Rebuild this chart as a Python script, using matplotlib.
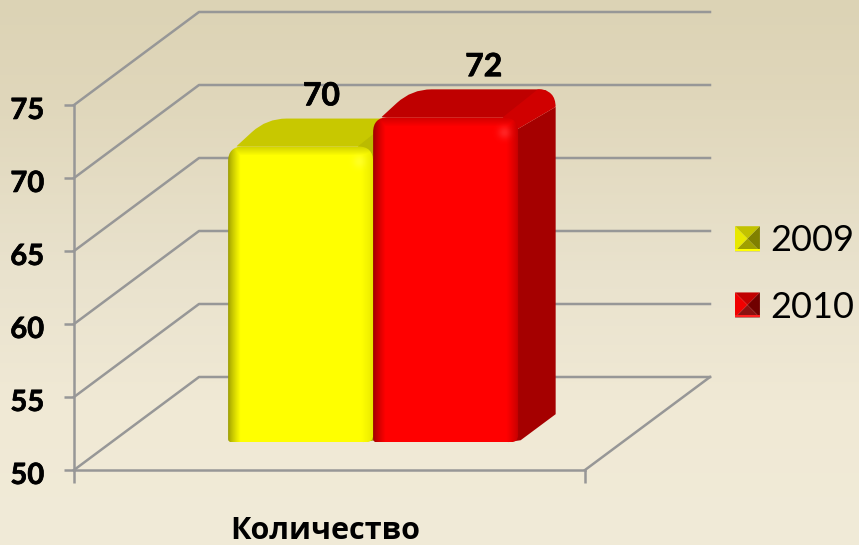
import numpy as np
import matplotlib
matplotlib.use("Agg")
import matplotlib.pyplot as plt
import matplotlib.patheffects as pe
from matplotlib.legend_handler import HandlerBase
from matplotlib.patches import PathPatch, Polygon, Patch
from matplotlib.path import Path
from matplotlib.transforms import ScaledTranslation

# ---- data -------------------------------------------------------------
categories = ["Количество"]
series_names = ["2009", "2010"]
values_2009 = [70]
values_2010 = [72]
y_ticks = [50, 55, 60, 65, 70, 75]

# ---- style ------------------------------------------------------------
W, H = 859, 545
AX_L, AX_R, AX_B, AX_T = 74, 585, 470, 105   # px
DX, DY_PX = 125 / 511, 93                    # wall depth
GRID = "#979797"
LW = 1.8
D0, D1 = 0.30, 0.60                          # bar depth range
BAR_W = 0.2838
NUDGE = 0.012
OVER = 0.25                                  # bevel overshoot (value units)
HEAVY = [pe.withStroke(linewidth=0.5, foreground="black")]

fig = plt.figure(figsize=(W / 100, H / 100), dpi=100)

# background gradient
bg = fig.add_axes([0, 0, 1, 1], zorder=-1)
rows = np.arange(H)
stops = [0, 100, 270, 400, 545]
grad = np.stack([
    np.interp(rows, stops, [220, 224, 233, 240, 241]),
    np.interp(rows, stops, [211, 215, 226, 233, 235]),
    np.interp(rows, stops, [181, 187, 205, 213, 216]),
], axis=1)[:, None, :] / 255
bg.imshow(grad, aspect="auto", extent=[0, 1, 0, 1], origin="upper")
bg.axis("off")

ax = fig.add_axes([AX_L / W, 1 - AX_B / H, (AX_R - AX_L) / W, (AX_B - AX_T) / H])
ax.patch.set_visible(False)
XLIM, YLIM = (0, 1), (50, 75)
PXX = AX_R - AX_L
PXY = (AX_B - AX_T) / (YLIM[1] - YLIM[0])
DV = DY_PX / PXY


def proj(x, v, d):
    """Front-plane data coordinates of a point at depth d (0 front, 1 back)."""
    return x + d * DX, v + d * DV


def rounded(points, radii):
    """Closed path through data-space points with corners rounded by px radii."""
    pts = np.array(points, float) * [PXX, PXY]
    verts, codes = [], []
    n = len(pts)
    for i in range(n):
        p, a, b = pts[i], pts[i - 1], pts[(i + 1) % n]
        r = radii[i]
        ua = (a - p) / np.linalg.norm(a - p)
        ub = (b - p) / np.linalg.norm(b - p)
        start, end = p + ua * r, p + ub * r
        verts.append(start)
        codes.append(Path.MOVETO if i == 0 else Path.LINETO)
        verts += [p, end]
        codes += [Path.CURVE3, Path.CURVE3]
    verts.append(verts[0])
    codes.append(Path.CLOSEPOLY)
    return Path(np.array(verts) / [PXX, PXY], codes)


# walls and floor
for v in y_ticks:
    p0, p1, p2 = proj(0, v, 0), proj(0, v, 1), proj(1, v, 1)
    ax.plot([p0[0], p1[0], p2[0]], [p0[1], p1[1], p2[1]], color=GRID, lw=LW,
            clip_on=False, zorder=1, solid_joinstyle="round")
pf, pb = proj(1, 50, 0), proj(1, 50, 1)
ax.plot([pf[0], pb[0]], [pf[1], pb[1]], color=GRID, lw=LW, clip_on=False, zorder=1)


def draw_bar(x0, value, rgb, top_rgb, cap_rgb, side_rgb, right_fade, z):
    x1 = x0 + BAR_W
    vt = value + OVER
    # right side
    side = [proj(x1 - 0.02, 50, D0), proj(x1, 50, D0 + 0.02), proj(x1, 50, D1),
            proj(x1, vt - 1.2, D1), proj(x1 - 0.02, vt - 1.2, D0)]
    ax.add_patch(Polygon(side, fc=side_rgb, ec="none", clip_on=False, zorder=z))
    # top face
    corners = [proj(x0 + 0.016, vt, D0), proj(x0 + 0.002, vt, D1),
               proj(x1, vt, D1), proj(x1 - 0.02, vt, D0)]
    ax.add_patch(PathPatch(rounded(corners, [1, 20, 18, 1]), fc=top_rgb, ec="none",
                           clip_on=False, zorder=z))
    # lighter right part of the top face
    cap = [proj(x1 - 0.03, vt, D0), proj(x1 - 0.035, vt, D1), proj(x1, vt, D1),
           proj(x1, vt - 1.2, D1), proj(x1 - 0.02, vt - 1.2, D0)]
    ax.add_patch(PathPatch(rounded(cap, [1, 1, 18, 1, 1]), fc=cap_rgb, ec="none",
                           clip_on=False, zorder=z))
    # front face: rounded outline, clipped shaded image
    fl, fb = proj(x0, 50, D0)
    fr, ft = proj(x1, vt, D0)
    outline = rounded([(fl, fb), (fl, ft), (fr, ft), (fr, fb)], [3, 15, 15, 7])
    clip = PathPatch(outline, fc="none", ec="none", transform=ax.transData)
    ax.add_patch(clip)
    h, w = int(round((ft - fb) * PXY)), int(round((fr - fl) * PXX))
    yy, xx = np.mgrid[0:h, 0:w].astype(float)
    left = 0.62 + 0.38 * np.clip(xx / 12, 0, 1) ** 0.8
    right = right_fade + (1 - right_fade) * np.clip((w - 1 - xx) / 12, 0, 1) ** 0.8
    top = 0.82 + 0.18 * np.clip(yy / 9, 0, 1)
    m = np.minimum(np.minimum(left, right), top)
    img = np.ones((h, w, 3)) * np.array(rgb) * m[..., None]
    glow = 0.14 * np.exp(-(((xx - (w - 15)) ** 2 + (yy - 15) ** 2) / 40))
    img = img + (1 - img) * glow[..., None]
    im = ax.imshow(img, extent=[fl, fr, fb, ft], aspect="auto", origin="upper",
                   zorder=z + 0.1, clip_on=True)
    im.set_clip_path(clip)
    return (x0 + x1) / 2


YELLOW, RED = (1, 1, 0), (1, 0, 0)
cat_x = 0.5
x_start = cat_x - BAR_W + NUDGE
centers = [
    draw_bar(x_start, values_2009[0], YELLOW, "#C8C800", "#BBBB00", "#A5A500", 0.9, 3),
    draw_bar(x_start + BAR_W, values_2010[0], RED, "#BF0000", "#D00000", "#A50000", 0.75, 4),
]

# data labels
label_dx = [1.5, 14]  # points
for c, val, ldx in zip(centers, [values_2009[0], values_2010[0]], label_dx):
    px, pv = proj(c, val, (D0 + D1) / 2)
    ax.annotate(str(val), (px, pv), xytext=(ldx, 29), textcoords="offset points",
                ha="center", va="center", fontsize=23, fontweight="bold",
                family="Lato", color="black", zorder=6, annotation_clip=False,
                path_effects=HEAVY)

# axes
ax.set_xlim(*XLIM)
ax.set_ylim(*YLIM)
for s in ("top", "right"):
    ax.spines[s].set_visible(False)
for s in ("left", "bottom"):
    ax.spines[s].set_color(GRID)
    ax.spines[s].set_linewidth(LW)
ax.set_yticks(y_ticks)
ax.set_yticklabels([str(v) for v in y_ticks], fontsize=21, fontweight="bold", family="Lato")
ax.tick_params(axis="y", length=7.5, width=LW, color=GRID, pad=14)
shift = ScaledTranslation(0, -2.5 / 72, fig.dpi_scale_trans)
for lab in ax.get_yticklabels():
    lab.set_transform(lab.get_transform() + shift)
    lab.set_path_effects(HEAVY)
ax.set_xticks([0, 1])
ax.set_xticklabels(["", ""])
ax.tick_params(axis="x", which="major", length=9, width=LW, color=GRID)
ax.set_xticks([cat_x], labels=categories, minor=True)
ax.tick_params(axis="x", which="minor", length=0, pad=33)
for lab in ax.get_xticklabels(minor=True):
    lab.set_fontsize(22)
    lab.set_fontweight("bold")
    lab.set_family("Open Sans")
    lab.set_transform(lab.get_transform() + ScaledTranslation(-3 / 72, 0, fig.dpi_scale_trans))


# legend with pyramid keys
class Pyramid(HandlerBase):
    def __init__(self, shades):
        super().__init__()
        self.shades = shades

    def create_artists(self, legend, orig, xd, yd, w, h, fs, trans):
        x0, y0 = -xd, -yd
        xc, yc = x0 + w / 2, y0 + h / 2
        a, b, c, d = (x0, y0), (x0 + w, y0), (x0 + w, y0 + h), (x0, y0 + h)
        tri = [(d, c), (a, d), (c, b), (b, a)]
        out = []
        for (p, q), col in zip(tri, self.shades):
            out.append(Polygon([p, q, (xc, yc)], fc=col, ec="none", transform=trans))
        s = h * 0.09
        out.append(Polygon([a, b, (x0 + w, y0 + s), (x0, y0 + s)],
                           fc=self.shades[4], ec="none", transform=trans))
        return out


h1 = Patch(label=series_names[0])
h2 = Patch(label=series_names[1])
leg = ax.legend(
    handles=[h1, h2],
    handler_map={
        h1: Pyramid(["#C2C200", "#E8E800", "#808000", "#A0A000", "#FFFF00"]),
        h2: Pyramid(["#C00000", "#F00000", "#700000", "#8A1010", "#FF2020"]),
    },
    loc="center left",
    bbox_to_anchor=(735 / W, 1 - 274 / H),
    bbox_transform=fig.transFigure,
    frameon=False,
    borderpad=0,
    borderaxespad=0,
    handlelength=0.69,
    handleheight=0.69,
    handletextpad=0.29,
    labelspacing=0.92,
    prop={"family": "Lato", "size": 26},
)
leg.set_zorder(7)

fig.savefig("out.png", dpi=100)
